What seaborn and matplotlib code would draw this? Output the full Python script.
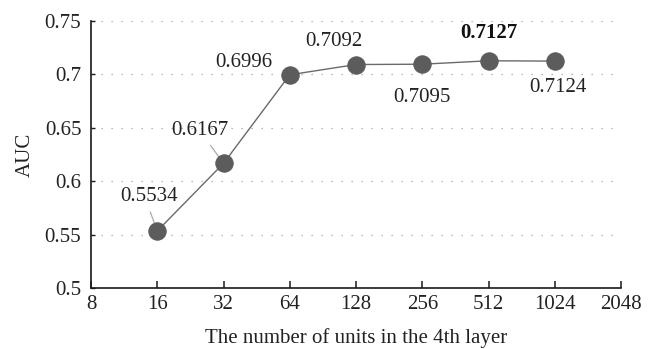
import numpy as np
import pandas as pd
import seaborn as sns
import matplotlib
matplotlib.use("Agg")
import matplotlib.pyplot as plt

# Hidden units in the 4th layer and the resulting AUC
units = [16, 32, 64, 128, 256, 512, 1024]
auc = [0.5534, 0.6167, 0.6996, 0.7092, 0.7095, 0.7127, 0.7124]
best_label = "0.7127"

x_ticks = [8, 16, 32, 64, 128, 256, 512, 1024, 2048]
y_ticks = [0.5, 0.55, 0.6, 0.65, 0.7, 0.75]
y_tick_labels = ["0.5", "0.55", "0.6", "0.65", "0.7", "0.75"]

sns.set_theme(style="ticks")
plt.rcParams["font.family"] = ["Liberation Serif", "DejaVu Serif"]

FS = 15

df = pd.DataFrame({"units": units, "auc": auc})

fig = plt.figure(figsize=(6.53, 3.49), dpi=100)
ax = fig.add_axes([0.1394, 0.1748, 0.8116, 0.7652])

# dotted horizontal guides
for yv in y_ticks[1:]:
    ax.axhline(yv, color="#a0a0a0", lw=0.9, ls=(0, (1, 7)), zorder=0)

sns.lineplot(data=df, x="units", y="auc", ax=ax, color="#6a6a6a", lw=1.0,
             marker="o", markersize=12.5, markerfacecolor="#5c5c5c",
             markeredgecolor="#5c5c5c", zorder=3)

ax.set_xscale("log", base=2)
ax.set_xlim(8, 2048)
ax.set_ylim(0.5, 0.75)
ax.set_xticks(x_ticks)
ax.set_xticklabels([str(v) for v in x_ticks])
ax.minorticks_off()
ax.set_yticks(y_ticks)
ax.set_yticklabels(y_tick_labels)

for side in ["top", "right"]:
    ax.spines[side].set_visible(False)
for side in ["left", "bottom"]:
    ax.spines[side].set_color("#1a1a1a")
    ax.spines[side].set_linewidth(1.2)

ax.tick_params(axis="x", direction="in", length=5, width=1.1, color="#1a1a1a",
               labelsize=FS, pad=5, labelcolor="#222222")
ax.tick_params(axis="y", direction="in", length=3, width=1.0, color="#1a1a1a",
               labelsize=FS, pad=7, labelcolor="#222222")

ax.set_xlabel("The number of units in the 4th layer", fontsize=FS,
              color="#222222", labelpad=10)
ax.set_ylabel("AUC", fontsize=FS, color="#222222", labelpad=7)

# value labels (pixel offsets from each point)
offsets = [(-8, 34), (-24, 33), (-46, 12), (-22, 23), (0, -33), (0, 28), (3, -26)]
for u, a, (dx, dy) in zip(units, auc, offsets):
    txt = f"{a:.4f}"
    bold = txt == best_label
    ax.annotate(txt, xy=(u, a), xytext=(dx, dy), textcoords="offset pixels",
                ha="center", va="center", fontsize=FS,
                fontweight="bold" if bold else "normal",
                color="#111111" if bold else "#222222", zorder=5)

# short leader lines for the two lowest points
leaders = {16: (-7, 19), 32: (-13, 18)}
for u, a in zip(units, auc):
    if u in leaders:
        ax.annotate("", xy=(u, a), xytext=leaders[u], textcoords="offset pixels",
                    arrowprops=dict(arrowstyle="-", color="#aaaaaa", lw=0.9,
                                    shrinkA=0, shrinkB=0), zorder=2)

fig.savefig("out.png", dpi=100)
